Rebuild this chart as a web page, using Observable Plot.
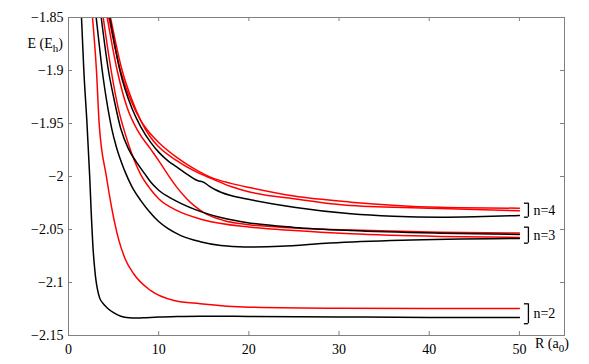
<!DOCTYPE html>
<html><head><meta charset="utf-8">
<script src="https://cdn.jsdelivr.net/npm/d3@7"></script>
<script src="https://cdn.jsdelivr.net/npm/@observablehq/plot@0.6"></script>
<style>
body{margin:0;background:#fff}
</style>
</head><body><div id="chart"></div>
<script>
// tick values
const xTicks = [0, 10, 20, 30, 40, 50];
const yTicks = [-1.85, -1.9, -1.95, -2, -2.05, -2.1, -2.15];

// curves: [R (a0), E (Eh)]
const n2Black = [[1.44,-1.85],[1.7,-1.9],[2.05,-1.95],[2.35,-2.0],[2.55,-2.04],[2.7,-2.065],[2.85,-2.082],[3.0,-2.095],[3.2,-2.106],[3.45,-2.1145],[3.8,-2.1195],[4.3,-2.124],[5,-2.1285],[5.8,-2.1318],[6.7,-2.1333],[7.6,-2.1336],[8.6,-2.1332],[10,-2.1326],[12,-2.1321],[14.6,-2.1318],[20,-2.132],[30,-2.1325],[40,-2.133],[50,-2.133]];
const n2Red = [[2.66,-1.85],[3.1,-1.9],[3.4,-1.95],[4.2,-2.0],[4.8,-2.03],[5.58,-2.06],[6.3,-2.078],[7.24,-2.092],[9.09,-2.1075],[11.7,-2.117],[14.6,-2.12],[20,-2.1233],[30,-2.1243],[40,-2.1245],[50,-2.1245]];
const n3BlackLow = [[3.07,-1.85],[3.4,-1.875],[3.74,-1.9],[4.2,-1.927],[4.8,-1.955],[5.3,-1.972],[6.2,-1.994],[7,-2.009],[8,-2.0225],[9,-2.0335],[10,-2.0425],[11,-2.049],[12.4,-2.0555],[14.6,-2.0615],[16.9,-2.0651],[19.5,-2.0665],[23.5,-2.0658],[29,-2.0628],[37,-2.0602],[50,-2.0585]];
const n3BlackHigh = [[3.63,-1.85],[4.43,-1.9],[5.0,-1.925],[5.8,-1.955],[6.65,-1.974],[7.5,-1.986],[8.5,-1.998],[9.09,-2.005],[10,-2.013],[11.7,-2.022],[14,-2.031],[17,-2.039],[20.2,-2.044],[25,-2.048],[31.3,-2.051],[41.2,-2.0535],[50,-2.0547]];
const n3Red = [[3.85,-1.85],[4.73,-1.9],[5.5,-1.935],[6.3,-1.96],[7,-1.978],[8,-1.998],[9.09,-2.012],[10,-2.021],[12,-2.032],[15,-2.041],[20.2,-2.0478],[25,-2.051],[31.3,-2.054],[41.2,-2.0565],[50,-2.0575]];
const crossRed = [[4.29,-1.85],[5.4,-1.9],[6.5,-1.935],[7.76,-1.958],[9.09,-1.974],[10,-1.985],[11,-1.998],[12,-2.01],[13,-2.02],[14,-2.028],[15,-2.034],[17.2,-2.0415],[20,-2.0455],[25,-2.0485],[31.3,-2.0505],[41.2,-2.0525],[50,-2.0533]];
const n4Black = [[4.58,-1.85],[5.7,-1.9],[7,-1.935],[8,-1.953],[9.09,-1.9676],[10,-1.977],[11,-1.985],[12,-1.991],[13,-1.997],[13.8,-2.0015],[14.3,-2.0038],[15,-2.0055],[15.6,-2.009],[16.3,-2.0125],[16.9,-2.0148],[18,-2.018],[20.2,-2.022],[25,-2.029],[31.3,-2.0352],[36,-2.0375],[41.2,-2.0384],[45,-2.038],[50,-2.0368]];
const n4RedA = [[4.47,-1.85],[5.76,-1.9],[7,-1.93],[8,-1.947],[9.09,-1.9597],[10,-1.968],[12,-1.982],[14,-1.993],[16,-2.0015],[18,-2.0065],[20.2,-2.0107],[25,-2.0185],[31.3,-2.0242],[41.2,-2.029],[50,-2.0299]];
const n4RedB = [[4.66,-1.85],[5.95,-1.9],[7,-1.927],[8,-1.947],[9.09,-1.963],[10,-1.972],[12,-1.985],[14,-1.995],[16,-2.0025],[18,-2.0095],[20.2,-2.0148],[25,-2.021],[31.3,-2.0274],[41.2,-2.0302],[50,-2.0324]];

// level labels and brackets (E range spanned by each bracket)
const levelLabels = ["n=2", "n=3", "n=4"];
const bracketTop = [-2.1201, -2.0478, -2.0252];
const bracketBottom = [-2.1389, -2.0629, -2.0384];

const curves = [
  {id: "n2Red", color: "red", pts: n2Red},
  {id: "n3Red", color: "red", pts: n3Red},
  {id: "crossRed", color: "red", pts: crossRed},
  {id: "n4RedA", color: "red", pts: n4RedA},
  {id: "n4RedB", color: "red", pts: n4RedB},
  {id: "n2Black", color: "black", pts: n2Black},
  {id: "n3BlackLow", color: "black", pts: n3BlackLow},
  {id: "n3BlackHigh", color: "black", pts: n3BlackHigh},
  {id: "n4Black", color: "black", pts: n4Black}
];
const rows = curves.flatMap(c => c.pts.map(([R, E]) => ({R, E, id: c.id, color: c.color})));
const groups = levelLabels.map((label, i) => ({label, top: bracketTop[i], bottom: bracketBottom[i], mid: (bracketTop[i] + bracketBottom[i]) / 2}));
const xEnd = d3.max(rows, d => d.R);

const W = 589, H = 364, mL = 68, mR = 25, mT = 17, mB = 29;
const innerH = H - mT - mB, innerW = W - mL - mR;
const tick = 4;
const fmt = d => String(d).replace("-", "\u2212");
const FONT = "'Liberation Serif', 'Times New Roman', Times, 'DejaVu Serif', serif";

const chart = Plot.plot({
  width: W, height: H,
  marginLeft: mL, marginRight: mR, marginTop: mT, marginBottom: mB,
  style: {fontFamily: FONT, fontSize: "14px", color: "black", background: "white"},
  x: {domain: [0, 55], label: null},
  y: {domain: [-2.15, -1.85], label: null},
  marks: [
    Plot.axisX(xTicks, {tickSize: 0, tickPadding: 9, fontSize: 14, label: null}),
    Plot.axisY(yTicks, {tickSize: 0, tickPadding: 5, fontSize: 14, tickFormat: fmt, label: null}),
    Plot.ruleX(xTicks, {x: d => d, insetTop: innerH - tick, stroke: "#808080"}),
    Plot.ruleX(xTicks, {x: d => d, insetBottom: innerH - tick, stroke: "#808080"}),
    Plot.ruleY(yTicks, {y: d => d, insetRight: innerW - tick, stroke: "#808080"}),
    Plot.ruleY(yTicks, {y: d => d, insetLeft: innerW - tick, stroke: "#808080"}),
    Plot.line(rows, {x: "R", y: "E", z: "id", stroke: "color", strokeWidth: 1.5, curve: "monotone-x", clip: true}),
    Plot.ruleX(groups, {x: () => xEnd, y1: "top", y2: "bottom", dx: 9, stroke: "black", strokeWidth: 1.3}),
    Plot.ruleY(groups, {y: "top", x1: () => xEnd, x2: () => xEnd + 1, insetLeft: 5, stroke: "black", strokeWidth: 1.3}),
    Plot.ruleY(groups, {y: "bottom", x1: () => xEnd, x2: () => xEnd + 1, insetLeft: 5, stroke: "black", strokeWidth: 1.3}),
    Plot.text(groups, {x: () => xEnd, y: "mid", text: "label", dx: 14, textAnchor: "start", fontSize: 14}),
    Plot.frame({stroke: "#808080"})
  ]
});
document.getElementById("chart").appendChild(chart);

// axis titles with subscripts
const svg = d3.select(chart);
const yT = svg.append("text").attr("x", mL - 5).attr("y", 48).attr("text-anchor", "end")
  .attr("font-size", 14).attr("fill", "black");
yT.append("tspan").text("E (E");
yT.append("tspan").attr("font-size", 11).attr("dy", 4).text("h");
yT.append("tspan").attr("dy", -4).text(")");
const xT = svg.append("text").attr("x", 535).attr("y", 348).attr("text-anchor", "start")
  .attr("font-size", 14).attr("fill", "black");
xT.append("tspan").text("R (a");
xT.append("tspan").attr("font-size", 11).attr("dy", 4).text("0");
xT.append("tspan").attr("dy", -4).text(")");

// force serif face on every text
svg.style("font-family", FONT, "important");
svg.selectAll("g, text, tspan").attr("font-family", FONT).style("font-family", FONT, "important");
</script>
</body></html>
